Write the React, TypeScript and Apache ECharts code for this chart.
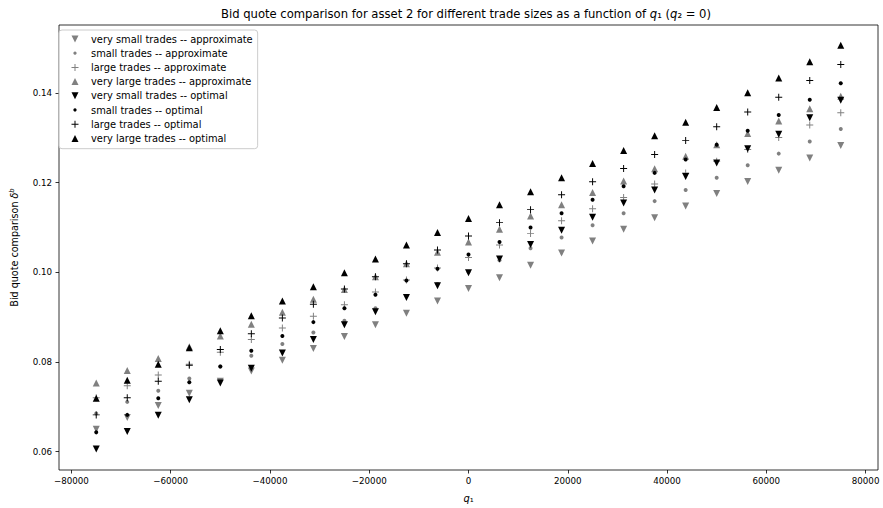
import { useEffect, useRef } from 'react';
import * as echarts from 'echarts';

const q1Values = [
  -75000, -68750, -62500, -56250, -50000, -43750, -37500, -31250, -25000, -18750, -12500, -6250, 0,
  6250, 12500, 18750, 25000, 31250, 37500, 43750, 50000, 56250, 62500, 68750, 75000,
];

const verySmallApprox = [
  0.0650, 0.0676, 0.0703, 0.0730, 0.0757, 0.0780, 0.0804, 0.0830, 0.0857, 0.0883, 0.0909, 0.0936, 0.0964,
  0.0988, 0.1016, 0.1043, 0.1070, 0.1096, 0.1122, 0.1148, 0.1176, 0.1203, 0.1228, 0.1255, 0.1283,
];
const smallApprox = [
  0.0685, 0.0711, 0.0736, 0.0763, 0.0790, 0.0814, 0.0840, 0.0866, 0.0892, 0.0920, 0.0947, 0.0974, 0.1001,
  0.1027, 0.1054, 0.1078, 0.1105, 0.1132, 0.1159, 0.1184, 0.1211, 0.1239, 0.1265, 0.1292, 0.1320,
];
const largeApprox = [
  0.0720, 0.0747, 0.0771, 0.0795, 0.0822, 0.0850, 0.0876, 0.0902, 0.0928, 0.0956, 0.0983, 0.1010, 0.1033,
  0.1061, 0.1087, 0.1115, 0.1142, 0.1167, 0.1197, 0.1222, 0.1248, 0.1274, 0.1301, 0.1329, 0.1356,
];
const veryLargeApprox = [
  0.0753, 0.0781, 0.0808, 0.0834, 0.0858, 0.0884, 0.0911, 0.0940, 0.0962, 0.0990, 0.1019, 0.1045, 0.1068,
  0.1096, 0.1126, 0.1151, 0.1178, 0.1204, 0.1231, 0.1259, 0.1285, 0.1310, 0.1338, 0.1365, 0.1393,
];
const verySmallOpt = [
  0.0606, 0.0645, 0.0681, 0.0716, 0.0753, 0.0786, 0.0820, 0.0850, 0.0883, 0.0912, 0.0944, 0.0970, 0.0999,
  0.1030, 0.1062, 0.1094, 0.1123, 0.1155, 0.1184, 0.1214, 0.1244, 0.1276, 0.1308, 0.1345, 0.1384,
];
const smallOpt = [
  0.0643, 0.0682, 0.0719, 0.0755, 0.0790, 0.0825, 0.0858, 0.0889, 0.0920, 0.0950, 0.0982, 0.1008, 0.1040,
  0.1068, 0.1100, 0.1132, 0.1162, 0.1192, 0.1222, 0.1252, 0.1285, 0.1316, 0.1351, 0.1385, 0.1422,
];
const largeOpt = [
  0.0682, 0.0720, 0.0757, 0.0793, 0.0828, 0.0863, 0.0898, 0.0929, 0.0963, 0.0990, 0.1019, 0.1050, 0.1081,
  0.1111, 0.1140, 0.1173, 0.1202, 0.1232, 0.1263, 0.1294, 0.1325, 0.1358, 0.1391, 0.1428, 0.1464,
];
const veryLargeOpt = [
  0.0719, 0.0759, 0.0795, 0.0832, 0.0870, 0.0903, 0.0936, 0.0968, 0.0999, 0.1030, 0.1061, 0.1089, 0.1120,
  0.1151, 0.1180, 0.1211, 0.1243, 0.1272, 0.1305, 0.1335, 0.1368, 0.1401, 0.1434, 0.1470, 0.1507,
];

const xTicks = [-80000, -60000, -40000, -20000, 0, 20000, 40000, 60000, 80000];
const yTicks = [0.06, 0.08, 0.1, 0.12, 0.14];

const GRAY = '#808080';
const BLACK = '#000000';
const FONT = 'DejaVu Sans';

const DOWN = 'path://M0,0H10L5,10Z';
const UP = 'path://M5,0L10,10H0Z';
const PLUS = 'path://M4.3,0H5.7V4.3H10V5.7H5.7V10H4.3V5.7H0V4.3H4.3Z';
const DOT_LEGEND = 'path://M0,0M10,10M7.3,5A2.3,2.3,0,1,1,7.3,4.99Z';

type Def = { name: string; values: number[]; symbol: string; size: number; color: string; legendIcon: string };

const defs: Def[] = [
  { name: 'very small trades -- approximate', values: verySmallApprox, symbol: DOWN, size: 7, color: GRAY, legendIcon: DOWN },
  { name: 'small trades -- approximate', values: smallApprox, symbol: 'circle', size: 4, color: GRAY, legendIcon: DOT_LEGEND },
  { name: 'large trades -- approximate', values: largeApprox, symbol: PLUS, size: 7, color: GRAY, legendIcon: PLUS },
  { name: 'very large trades -- approximate', values: veryLargeApprox, symbol: UP, size: 7, color: GRAY, legendIcon: UP },
  { name: 'very small trades -- optimal', values: verySmallOpt, symbol: DOWN, size: 7, color: BLACK, legendIcon: DOWN },
  { name: 'small trades -- optimal', values: smallOpt, symbol: 'circle', size: 4, color: BLACK, legendIcon: DOT_LEGEND },
  { name: 'large trades -- optimal', values: largeOpt, symbol: PLUS, size: 7, color: BLACK, legendIcon: PLUS },
  { name: 'very large trades -- optimal', values: veryLargeOpt, symbol: UP, size: 7, color: BLACK, legendIcon: UP },
];

const fmtX = (v: number) => (v < 0 ? '\u2212' + Math.abs(v) : String(v));

export default function App() {
  const ref = useRef<HTMLDivElement>(null);
  useEffect(() => {
    if (!ref.current) return;
    const chart = echarts.init(ref.current, undefined, { renderer: 'svg' });
    chart.setOption({
      animation: false,
      backgroundColor: '#ffffff',
      textStyle: { fontFamily: FONT },
      graphic: [
        {
          type: 'text',
          x: 466,
          y: 14,
          style: {
            text: '{n|Bid quote comparison for asset 2 for different trade sizes as a function of }{i|q}{n|\u2081 (}{i|q}{n|\u2082 = 0)}',
            align: 'center',
            verticalAlign: 'middle',
            fill: '#000',
            rich: {
              n: { fontFamily: FONT, fontSize: 11.6, fill: '#000' },
              i: { fontFamily: FONT, fontSize: 11.6, fontStyle: 'italic', fill: '#000' },
            },
          },
        },
      ],
      legend: {
        orient: 'vertical',
        left: 59,
        top: 30,
        padding: [4, 5, 5.3, 12.5],
        itemWidth: 7,
        itemHeight: 7,
        itemGap: 4.2,
        borderColor: '#cccccc',
        borderWidth: 1,
        borderRadius: 3,
        backgroundColor: 'rgba(255,255,255,0.8)',
        textStyle: { fontFamily: FONT, fontSize: 9.9, color: '#000', padding: [0, 0, 0, 7.5] },
        data: defs.map((d) => ({ name: d.name, icon: d.legendIcon, itemStyle: { color: d.color } })),
      },
      grid: {
        left: 54,
        right: 5,
        top: 25,
        bottom: 31,
        show: true,
        borderColor: '#000',
        borderWidth: 0.8,
        containLabel: false,
      },
      xAxis: {
        type: 'value',
        min: -82500,
        max: 82500,
        name: '{i|q}{n|\u2081}',
        nameLocation: 'middle',
        nameGap: 23,
        nameTextStyle: {
          rich: {
            i: { fontFamily: FONT, fontSize: 9.9, fontStyle: 'italic', color: '#000' },
            n: { fontFamily: FONT, fontSize: 9.9, color: '#000' },
          },
        },
        axisLine: { show: false, onZero: false },
        splitLine: { show: false },
        axisTick: { show: true, length: 3.5, lineStyle: { color: '#000', width: 0.8 }, customValues: xTicks },
        axisLabel: {
          customValues: xTicks,
          formatter: (v: number) => fmtX(v),
          fontFamily: FONT,
          fontSize: 8.7,
          color: '#000',
          margin: 6,
        },
      },
      yAxis: {
        type: 'value',
        min: 0.0559,
        max: 0.1552,
        name: 'Bid quote comparison {i|\u03b4}{s|b}',
        nameLocation: 'middle',
        nameGap: 39,
        nameTextStyle: {
          fontFamily: FONT,
          fontSize: 9.6,
          color: '#000',
          rich: {
            i: { fontFamily: FONT, fontSize: 9.6, fontStyle: 'italic', color: '#000' },
            s: { fontFamily: FONT, fontSize: 6.8, fontStyle: 'italic', color: '#000', padding: [0, 0, 5, 0] },
          },
        },
        axisLine: { show: false, onZero: false },
        splitLine: { show: false },
        axisTick: { show: true, length: 3.5, lineStyle: { color: '#000', width: 0.8 }, customValues: yTicks },
        axisLabel: {
          customValues: yTicks,
          formatter: (v: number) => v.toFixed(2),
          fontFamily: FONT,
          fontSize: 8.7,
          color: '#000',
          margin: 7,
        },
      },
      series: defs.map((d) => ({
        name: d.name,
        type: 'scatter',
        symbol: d.symbol,
        symbolSize: d.size,
        itemStyle: { color: d.color, opacity: 1 },
        emphasis: { disabled: true },
        data: q1Values.map((x, i) => [x, d.values[i]]),
      })),
    });
    return () => chart.dispose();
  }, []);
  return (
    <div
      ref={ref}
      style={{ position: 'fixed', left: 0, top: 0, width: 883, height: 508, background: '#fff' }}
    />
  );
}
